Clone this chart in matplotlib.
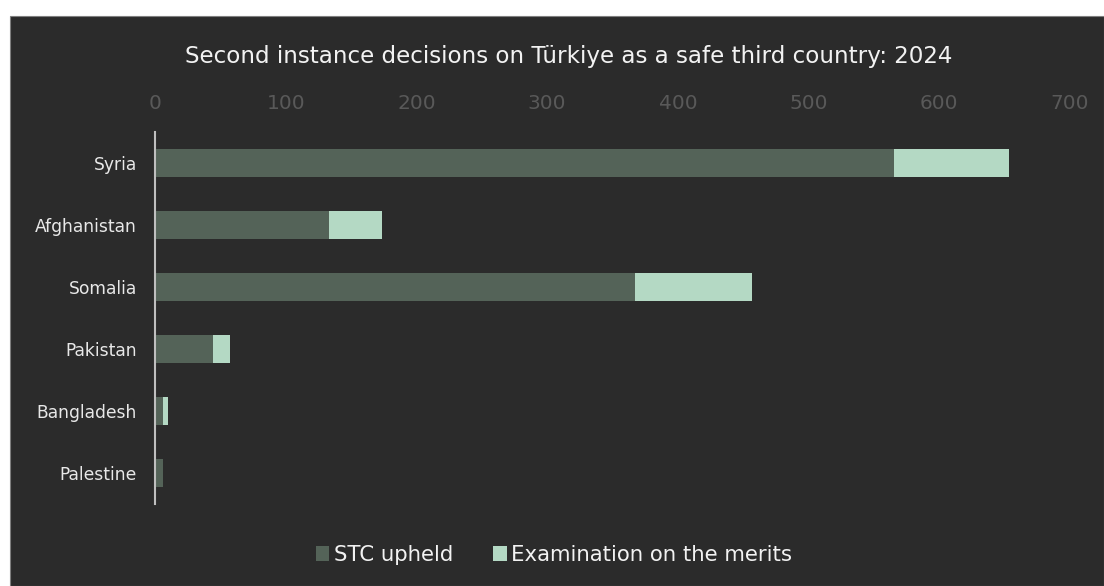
import matplotlib
matplotlib.use("Agg")
import matplotlib.pyplot as plt
from matplotlib.patches import Rectangle, Patch

categories = ["Syria", "Afghanistan", "Somalia", "Pakistan", "Bangladesh", "Palestine"]
stc_upheld = [565, 133, 367, 44, 6, 6]
merits = [88, 41, 90, 13, 4, 0]
xticks = [0, 100, 200, 300, 400, 500, 600, 700]
series_names = ["STC upheld", "Examination on the merits"]
title = "Second instance decisions on Türkiye as a safe third country: 2024"

BG = "#2b2b2b"
C1 = "#546358"
C2 = "#b4d9c4"
FONT = ["DejaVu Sans"]
plt.rcParams["font.family"] = FONT

W, H = 1104, 586
fig = plt.figure(figsize=(W / 100, H / 100), dpi=100)
fig.patch.set_facecolor("white")
fig.add_artist(Rectangle((9.5 / W, 0), 1 - 9.5 / W, (H - 16) / H, transform=fig.transFigure,
                         facecolor=BG, edgecolor="#7f7f7f", linewidth=0.8, zorder=0))

ax = fig.add_axes([155 / W, 1 - 504 / H, (1070 - 155) / W, (504 - 132) / H])
ax.set_facecolor("none")
ypos = list(range(len(categories)))
ax.barh(ypos, stc_upheld, height=0.44, color=C1, label=series_names[0])
ax.barh(ypos, merits, left=stc_upheld, height=0.44, color=C2, label=series_names[1])
ax.set_ylim(len(categories) - 0.5, -0.5)
ax.set_xlim(0, 700)
ax.set_yticks(ypos)
ax.set_yticklabels(categories, color="#e8e8e8", fontsize=12.3)
ax.set_xticks(xticks)
ax.set_xticklabels([str(t) for t in xticks], color="#595959", fontsize=14.5)
ax.xaxis.tick_top()
ax.tick_params(axis="x", length=0, pad=13.5)
ax.tick_params(axis="y", length=0, pad=13)
for s in ["top", "right", "bottom"]:
    ax.spines[s].set_visible(False)
ax.spines["left"].set_color("#bfbfbf")
ax.spines["left"].set_linewidth(1.5)

fig.text(569 / W, 1 - 56 / H, title, ha="center", va="center",
         color="#f2f2f2", fontsize=16.6)

handles = [Patch(facecolor=C1), Patch(facecolor=C2)]
leg = fig.legend(handles, series_names, loc="center", bbox_to_anchor=(554 / W, 1 - 555 / H),
                 ncol=2, frameon=False, fontsize=15.3, handlelength=0.65, handleheight=0.65,
                 handletextpad=0.2, columnspacing=1.9)
for t in leg.get_texts():
    t.set_color("#f2f2f2")

fig.savefig("out.png", dpi=100, facecolor=fig.get_facecolor())
